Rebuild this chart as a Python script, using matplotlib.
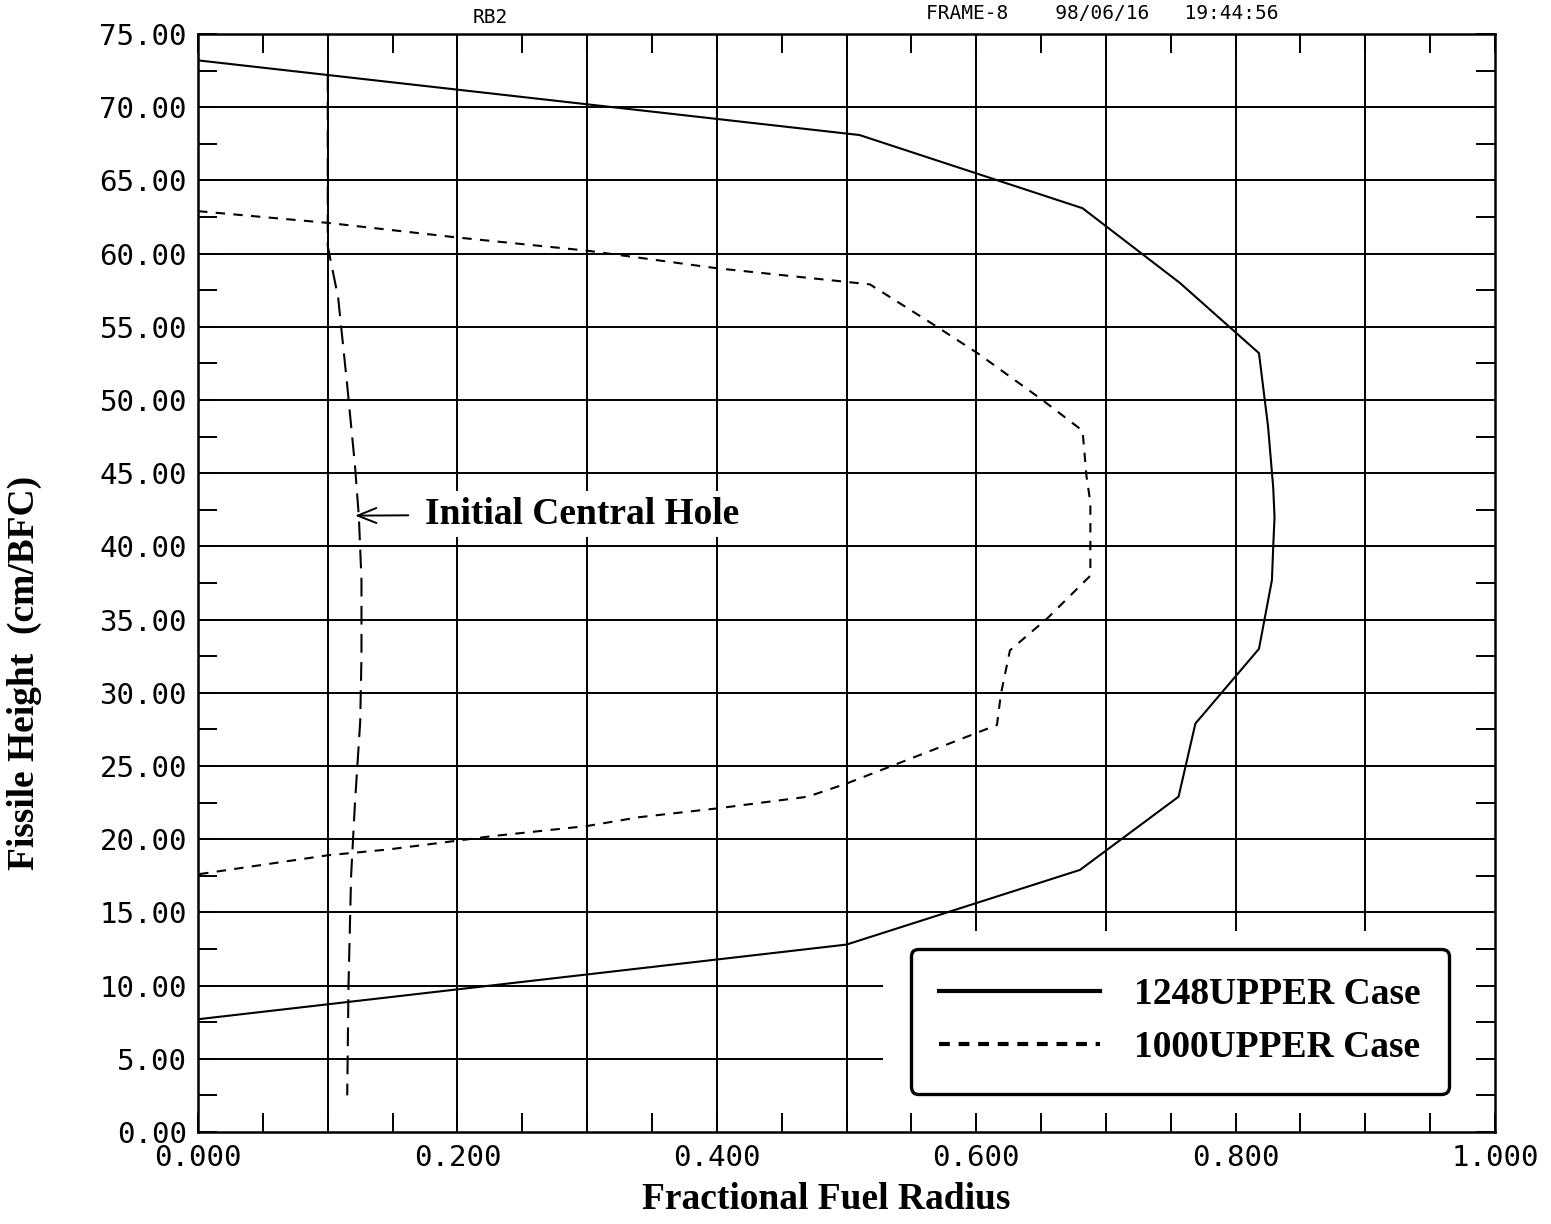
import matplotlib.pyplot as plt
import numpy as np
from matplotlib.ticker import MultipleLocator, FormatStrFormatter

# --- data (fractional radius, height in cm/BFC) ---
case1248_x = [0.0, 0.51, 0.682, 0.757, 0.818, 0.825, 0.829, 0.830, 0.829, 0.828,
              0.818, 0.769, 0.756, 0.680, 0.500, 0.0]
case1248_y = [73.2, 68.1, 63.1, 58.0, 53.2, 48.2, 44.0, 42.0, 40.0, 37.7,
              33.0, 27.9, 22.9, 17.9, 12.8, 7.7]

case1000_x = [0.0, 0.1, 0.2, 0.3, 0.4, 0.518, 0.568, 0.601, 0.651, 0.682, 0.685,
              0.688, 0.688, 0.655, 0.626, 0.619, 0.616, 0.5, 0.47, 0.4, 0.34,
              0.3, 0.226, 0.2, 0.147, 0.1, 0.0]
case1000_y = [62.9, 62.1, 61.1, 60.2, 59.0, 57.9, 55.1, 53.2, 50.0, 47.9, 44.8,
              43.0, 38.0, 35.1, 32.9, 29.9, 27.8, 23.8, 22.9, 22.1, 21.5,
              20.9, 20.2, 19.9, 19.3, 18.9, 17.6]

hole_x = [0.1, 0.1, 0.108, 0.115, 0.121, 0.124, 0.126, 0.126, 0.125, 0.121,
          0.118, 0.116, 0.115]
hole_y = [72.3, 60.5, 57.0, 51.0, 45.5, 42.0, 37.7, 32.5, 28.0, 22.5,
          17.5, 10.0, 2.5]

labels = ["1248UPPER Case", "1000UPPER Case"]

SERIF = "Liberation Serif"
MONO = "DejaVu Sans Mono"

fig = plt.figure(figsize=(15.51, 12.24), dpi=100)
ax = fig.add_axes([0.1277, 0.0752, 0.8362, 0.8970])
ax.set_xlim(0, 1.0)
ax.set_ylim(0, 75)

# grid drawn by hand so the legend corner stays blank
mask_x, mask_y = 0.528, 13.7
for gx in np.arange(0.1, 0.95, 0.1):
    y0 = mask_y if gx > mask_x else 0
    ax.vlines(gx, y0, 75, color="black", lw=1.4, zorder=1)
for gy in np.arange(5, 75, 5):
    x1 = mask_x if gy < mask_y else 1.0
    ax.hlines(gy, 0, x1, color="black", lw=1.4, zorder=1)

l1, = ax.plot(case1248_x, case1248_y, color="black", lw=1.5, zorder=3)
l2, = ax.plot(case1000_x, case1000_y, color="black", lw=1.5, zorder=3,
              dashes=(4.5, 4))
ax.plot(hole_x, hole_y, color="black", lw=1.5, zorder=3, dashes=(9, 4.5))

# ticks
ax.xaxis.set_major_locator(MultipleLocator(0.2))
ax.xaxis.set_minor_locator(MultipleLocator(0.05))
ax.yaxis.set_major_locator(MultipleLocator(5))
ax.yaxis.set_minor_locator(MultipleLocator(2.5))
ax.xaxis.set_major_formatter(FormatStrFormatter("%.3f"))
ax.yaxis.set_major_formatter(FormatStrFormatter("%.2f"))
ax.tick_params(which="both", direction="in", top=True, right=True,
               length=14, width=1.4)
ax.tick_params(axis="x", pad=9, labelsize=21)
ax.tick_params(axis="y", pad=8, labelsize=21)
for t in ax.get_xticklabels() + ax.get_yticklabels():
    t.set_fontfamily(MONO)
for s in ax.spines.values():
    s.set_linewidth(1.8)

ax.set_xlabel("Fractional Fuel Radius", fontsize=27, fontweight="bold",
              family=SERIF)
ax.xaxis.set_label_coords(0.484, -0.046)
ax.set_ylabel("Fissile Height  (cm/BFC)", fontsize=27, fontweight="bold",
              family=SERIF)
ax.yaxis.set_label_coords(-0.120, 0.418)

# header texts
ax.text(0.225, 1.006, "RB2", transform=ax.transAxes, ha="center", va="bottom",
        fontsize=14, family=MONO)
ax.text(0.697, 1.010, "FRAME-8    98/06/16   19:44:56", transform=ax.transAxes,
        ha="center", va="bottom", fontsize=14, family=MONO)

# annotation
ax.annotate("Initial Central Hole", xy=(0.121, 42.1), xytext=(0.175, 42.2),
            fontsize=27, fontweight="bold", family=SERIF, ha="left", va="center",
            bbox=dict(boxstyle="square,pad=0.15", fc="white", ec="none"),
            arrowprops=dict(arrowstyle="->,head_length=0.5,head_width=0.2",
                            lw=1.4, color="black", shrinkA=8, shrinkB=0),
            zorder=4)

leg = ax.legend([l1, l2], labels, loc="center", bbox_to_anchor=(0.757, 0.101),
                prop={"family": SERIF, "weight": "bold", "size": 27},
                frameon=True, fancybox=True, framealpha=1, edgecolor="black",
                handlelength=4.3, handletextpad=0.9, borderpad=0.75,
                labelspacing=0.5, borderaxespad=0)
leg.get_frame().set_linewidth(2.4)
leg.set_zorder(5)
for h in leg.get_lines():
    h.set_linewidth(3)
leg.get_lines()[1].set_dashes((2.6, 2.1))

fig.savefig("out.png", dpi=100, facecolor="white")
